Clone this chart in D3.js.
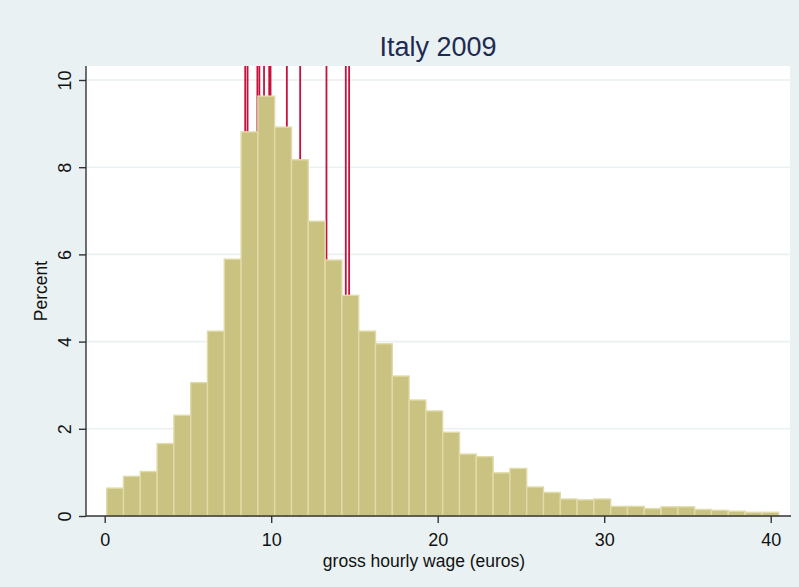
<!DOCTYPE html>
<html>
<head>
<meta charset="utf-8">
<script src="https://cdn.jsdelivr.net/npm/d3@7"></script>
<style>
  html, body { margin: 0; padding: 0; background: #e9f1f3; }
  svg { display: block; font-family: Arial, "Liberation Sans", sans-serif; }
</style>
</head>
<body>
<svg id="chart" width="799" height="587"></svg>
<script>
// ---- data ----
const binStart = 0.12;
const binWidth = 1.009;
const percents = [0.64, 0.91, 1.02, 1.66, 2.31, 3.06, 4.24, 5.89, 8.81, 9.63,
                  8.92, 8.17, 6.76, 5.87, 5.06, 4.24, 3.95, 3.21, 2.66, 2.41,
                  1.92, 1.42, 1.36, 0.99, 1.09, 0.665, 0.54, 0.39, 0.37, 0.39,
                  0.22, 0.22, 0.17, 0.21, 0.21, 0.15, 0.13, 0.11, 0.085, 0.085];
const redLines = [8.44, 8.58, 9.17, 9.29, 9.57, 9.88, 9.96, 10.94, 11.74, 13.32, 14.48, 14.68];
const xTicks = [0, 10, 20, 30, 40];
const yTicks = [0, 2, 4, 6, 8, 10];
const titleText = "Italy 2009";
const xLabel = "gross hourly wage (euros)";
const yLabel = "Percent";

// ---- layout ----
const W = 799, H = 587;
const plot = { left: 86, right: 790, top: 66, bottom: 516 };

const svg = d3.select("#chart");
svg.append("rect").attr("x", 0).attr("y", 0).attr("width", W).attr("height", H).attr("fill", "#e9f1f3");
svg.append("rect").attr("x", plot.left).attr("y", plot.top)
   .attr("width", plot.right - plot.left).attr("height", plot.bottom - plot.top).attr("fill", "#ffffff");

const x = d3.scaleLinear().domain([0, 40]).range([104.7, 770.7]);
const y = d3.scaleLinear().domain([0, 10]).range([516, 80]);

svg.append("defs").append("clipPath").attr("id", "clip")
  .append("rect").attr("x", plot.left).attr("y", plot.top)
  .attr("width", plot.right - plot.left).attr("height", plot.bottom - plot.top + 2);

// gridlines
svg.append("g").selectAll("line").data(yTicks.filter(d => d > 0)).join("line")
  .attr("x1", plot.left).attr("x2", plot.right)
  .attr("y1", d => y(d)).attr("y2", d => y(d))
  .attr("stroke", "#e9f1f3").attr("stroke-width", 1.6);

const g = svg.append("g").attr("clip-path", "url(#clip)");

// red reference lines
g.selectAll("line.ref").data(redLines).join("line").attr("class", "ref")
  .attr("x1", d => x(d)).attr("x2", d => x(d))
  .attr("y1", y(0) + 1).attr("y2", plot.top)
  .attr("stroke", "#c8103c").attr("stroke-width", 1.8);

// bars
const bins = percents.map((p, i) => ({ x0: binStart + i * binWidth, x1: binStart + (i + 1) * binWidth, p }));
g.selectAll("rect.bar").data(bins).join("rect").attr("class", "bar")
  .attr("x", d => x(d.x0)).attr("width", d => x(d.x1) - x(d.x0))
  .attr("y", d => y(d.p)).attr("height", d => y(0) - y(d.p))
  .attr("fill", "#c9c280").attr("stroke", "#e0dbaa").attr("stroke-width", 1.4);

// axes
const xAxis = d3.axisBottom(x).tickValues(xTicks).tickSize(7).tickPadding(10).tickFormat(d3.format("d"));
const xg = svg.append("g").attr("transform", `translate(0,${plot.bottom})`).call(xAxis);
xg.select(".domain").remove();
xg.append("line").attr("x1", plot.left).attr("x2", plot.right + 1).attr("y1", 0).attr("y2", 0)
  .attr("stroke", "#333").attr("stroke-width", 1.4);
xg.selectAll(".tick line").attr("stroke", "#333").attr("stroke-width", 1.4);
xg.selectAll(".tick text").attr("font-size", 18).attr("fill", "#111").attr("font-family", "Arial, 'Liberation Sans', sans-serif");

const yAxis = d3.axisLeft(y).tickValues(yTicks).tickSize(7).tickFormat(d3.format("d"));
const yg = svg.append("g").attr("transform", `translate(${plot.left},0)`).call(yAxis);
yg.select(".domain").remove();
yg.append("line").attr("x1", 0).attr("x2", 0).attr("y1", plot.top).attr("y2", plot.bottom)
  .attr("stroke", "#333").attr("stroke-width", 1.4);
yg.selectAll(".tick line").attr("stroke", "#333").attr("stroke-width", 1.4);
yg.selectAll(".tick text")
  .attr("font-size", 18).attr("fill", "#111").attr("font-family", "Arial, 'Liberation Sans', sans-serif")
  .attr("x", null).attr("dy", null)
  .attr("text-anchor", "middle")
  .attr("transform", "translate(-15,0) rotate(-90)");

// title
svg.append("text").attr("x", (plot.left + plot.right) / 2).attr("y", 56)
  .attr("text-anchor", "middle").attr("font-size", 27).attr("fill", "#1e2b50")
  .text(titleText);

// axis labels
svg.append("text").attr("x", 424).attr("y", 567)
  .attr("text-anchor", "middle").attr("font-size", 17.5).attr("fill", "#111")
  .text(xLabel);
svg.append("text").attr("transform", `translate(47,${(plot.top + plot.bottom) / 2}) rotate(-90)`)
  .attr("text-anchor", "middle").attr("font-size", 17.5).attr("fill", "#111")
  .text(yLabel);
</script>
</body>
</html>
